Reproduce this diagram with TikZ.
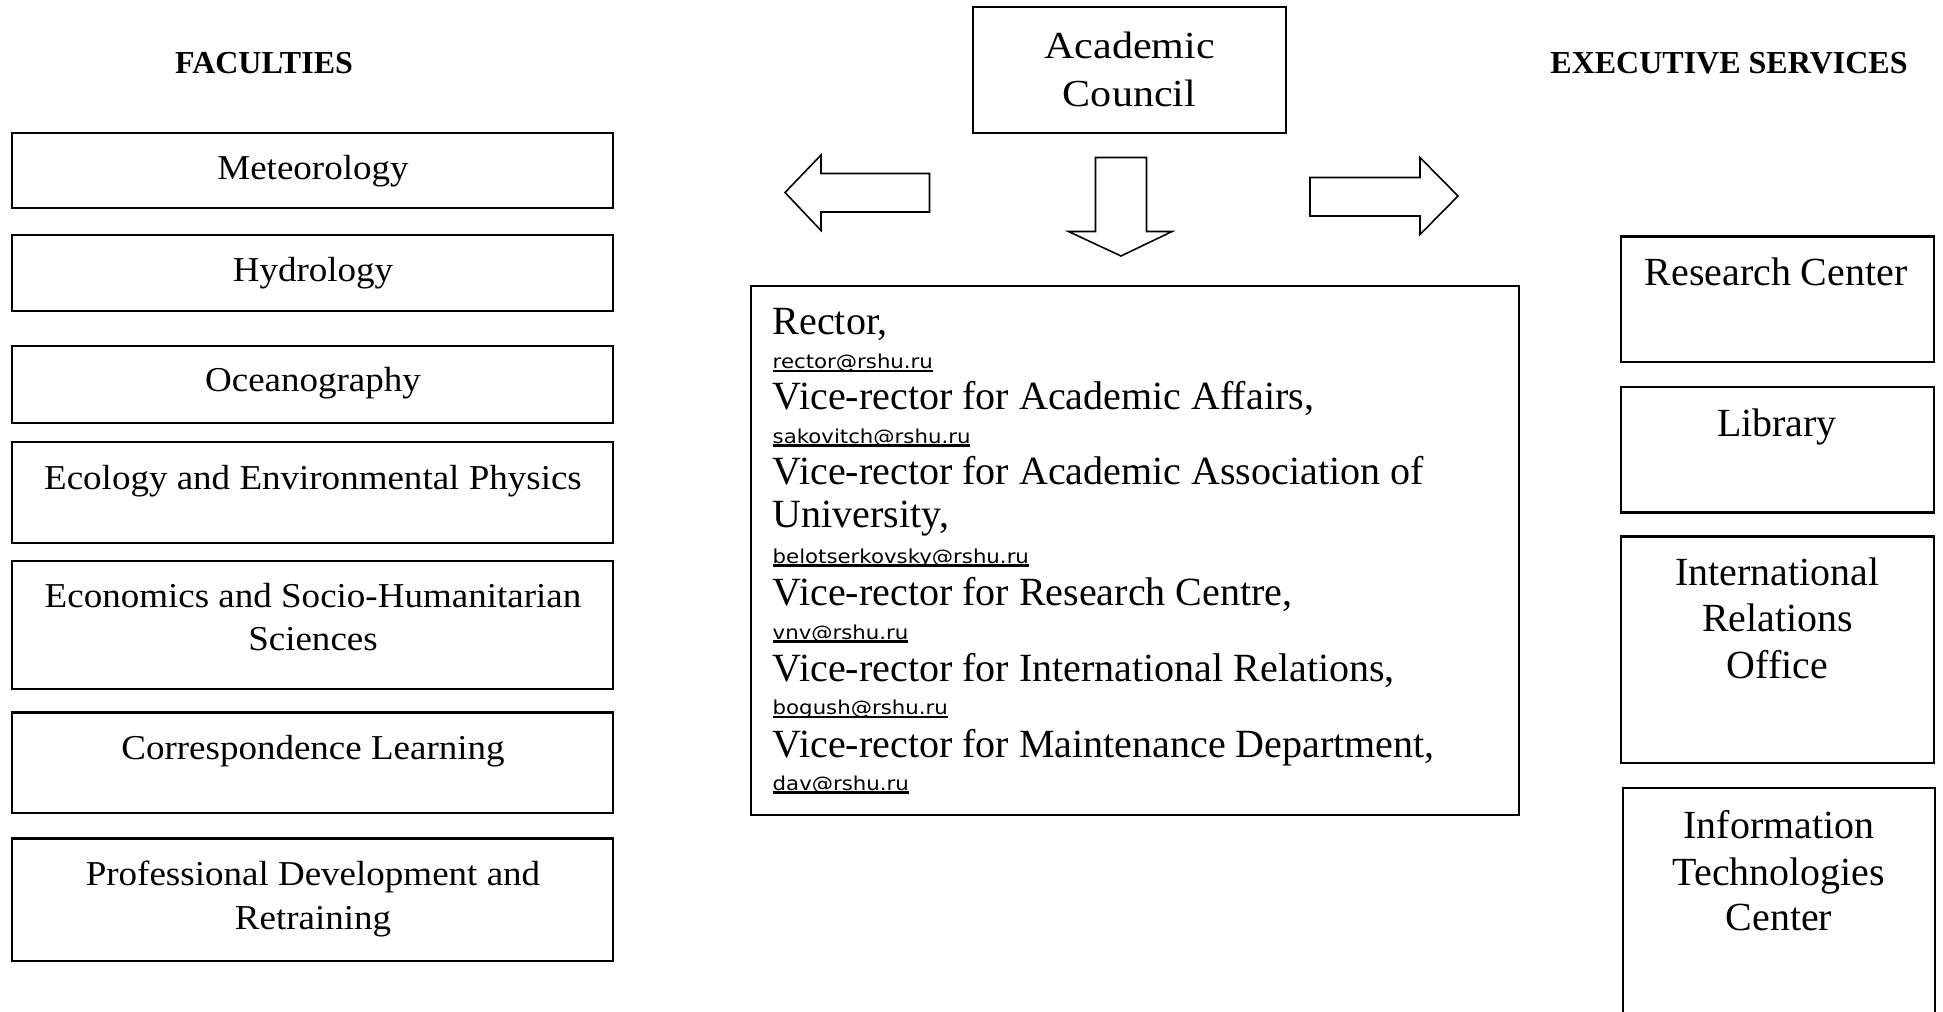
\documentclass[tikz,border=0pt]{standalone}
\usepackage{fontspec}
\setmainfont{Liberation Serif}
\newfontfamily\facfont[FakeStretch=1.06]{Liberation Serif}
\newfontfamily\acfont[FakeStretch=1.10]{Liberation Serif}
\newfontfamily\emfont[FakeStretch=1.11]{DejaVu Sans}
\usetikzlibrary{fit}
\newsavebox\emlbox
\newcommand\eml[1]{\sbox\emlbox{\emfont\fontsize{5.45pt}{6.5pt}\selectfont #1}\rlap{\vrule height -0.40pt depth 1.05pt width \wd\emlbox}\usebox\emlbox}
\tikzset{
  box/.style={draw, line width=0.6pt, inner sep=0pt},
  head/.style={font=\fontsize{9.1pt}{11pt}\selectfont\bfseries, anchor=base, inner sep=0pt},
  fac/.style={font=\facfont\fontsize{9.93pt}{12.3pt}\selectfont, anchor=base, inner sep=0pt},
  acad/.style={font=\acfont\fontsize{10.87pt}{13.6pt}\selectfont, anchor=base, inner sep=0pt},
  rect/.style={font=\fontsize{11.38pt}{13pt}\selectfont, anchor=base west, inner sep=0pt},
  mail/.style={anchor=base west, inner sep=0pt},
  serv/.style={font=\fontsize{11.35pt}{13.2pt}\selectfont, anchor=base, inner sep=0pt},
  bigarrow/.style={draw, line width=0.45pt, line join=miter, fill=white}
}
\begin{document}
\begin{tikzpicture}[x=0.01cm,y=-0.01cm]
\useasboundingbox (0,0) rectangle (1943,1011);
\clip (0,0) rectangle (1943,1011);

% headings
\node[head] (hfac) at (264,73.3) {FACULTIES};
\node[head] (hexec) at (1729,73) {EXECUTIVE SERVICES};

% faculties
\node[box, fit={(12.4,132.6) (613.4,208.2)}] (bmet) {};
\node[fac] (tmet) at (313,179) {Meteorology};
\node[box, fit={(12.4,235.4) (613.4,311)}] (bhyd) {};
\node[fac] (thyd) at (313,281.7) {Hydrology};
\node[box, fit={(12.4,345.7) (613.4,422.6)}] (boce) {};
\node[fac] (toce) at (313,391.7) {Oceanography};
\node[box, fit={(12.4,442.4) (613.4,542.8)}] (beco) {};
\node[fac] (teco) at (313,489.5) {Ecology and Environmental Physics};
\node[box, fit={(12.4,561.4) (613.4,689)}] (becon) {};
\node[fac] (tecona) at (313,607) {Economics and Socio-Humanitarian};
\node[fac] (teconb) at (313,650.3) {Sciences};
\node[box, fit={(12.4,712.5) (613.4,813)}] (bcor) {};
\node[fac] (tcor) at (313,759.5) {Correspondence Learning};
\node[box, fit={(12.4,838.5) (613.4,961)}] (bpro) {};
\node[fac] (tproa) at (313,885.5) {Professional Development and};
\node[fac] (tprob) at (313,929.3) {Retraining};

% academic council
\node[box, fit={(973,7) (1286,133)}] (bac) {};
\node[acad] (taca) at (1129.5,58.3) {Academic};
\node[acad] (tacb) at (1129.5,106) {Council};

% block arrows
\draw[bigarrow] (785,192.5) -- (821,155) -- (821,173.5) -- (929.5,173.5) -- (929.5,212) -- (821,212) -- (821,230.5) -- cycle;
\draw[bigarrow] (1095.5,157.5) -- (1146.5,157.5) -- (1146.5,231.5) -- (1172,231.5) -- (1121,256) -- (1068.5,231.5) -- (1095.5,231.5) -- cycle;
\draw[bigarrow] (1310,177.5) -- (1420,177.5) -- (1420,157.5) -- (1458,196) -- (1420,234.5) -- (1420,216) -- (1310,216) -- cycle;

% rector box
\node[box, fit={(751,286.3) (1519,815.4)}] (brec) {};
\node[rect] (r1) at (772,334) {Rector,};
\node[mail] (m1) at (772,368.5) {\eml{rector@rshu.ru}};
\node[rect] (r2) at (772,409) {Vice-rector for Academic Affairs,};
\node[mail] (m2) at (772,443) {\eml{sakovitch@rshu.ru}};
\node[rect] (r3) at (772,484) {Vice-rector for Academic Association of};
\node[rect] (r3b) at (772,527) {University,};
\node[mail] (m3) at (772,563) {\eml{belotserkovsky@rshu.ru}};
\node[rect] (r4) at (772,605) {Vice-rector for Research Centre,};
\node[mail] (m4) at (772,639) {\eml{vnv@rshu.ru}};
\node[rect] (r5) at (772,681) {Vice-rector for International Relations,};
\node[mail] (m5) at (772,714.5) {\eml{bogush@rshu.ru}};
\node[rect] (r6) at (772,757) {Vice-rector for Maintenance Department,};
\node[mail] (m6) at (772,790) {\eml{dav@rshu.ru}};

% executive services
\node[box, fit={(1621,236.5) (1934,361.8)}] (bres) {};
\node[serv] (tres) at (1776,285) {Research Center};
\node[box, fit={(1621,386.6) (1934,512.5)}] (blib) {};
\node[serv] (tlib) at (1777,436) {Library};
\node[box, fit={(1621,536.5) (1934,763.3)}] (bint) {};
\node[serv] (tinta) at (1777.5,585.8) {International};
\node[serv] (tintb) at (1777.5,631.8) {Relations};
\node[serv] (tintc) at (1777.5,678) {Office};
\node[box, fit={(1622.7,788.3) (1935.3,1050)}] (binf) {};
\node[serv] (tinfa) at (1779,838.7) {Information};
\node[serv] (tinfb) at (1779,885.2) {Technologies};
\node[serv] (tinfc) at (1779,930.5) {Center};
\end{tikzpicture}
\end{document}
